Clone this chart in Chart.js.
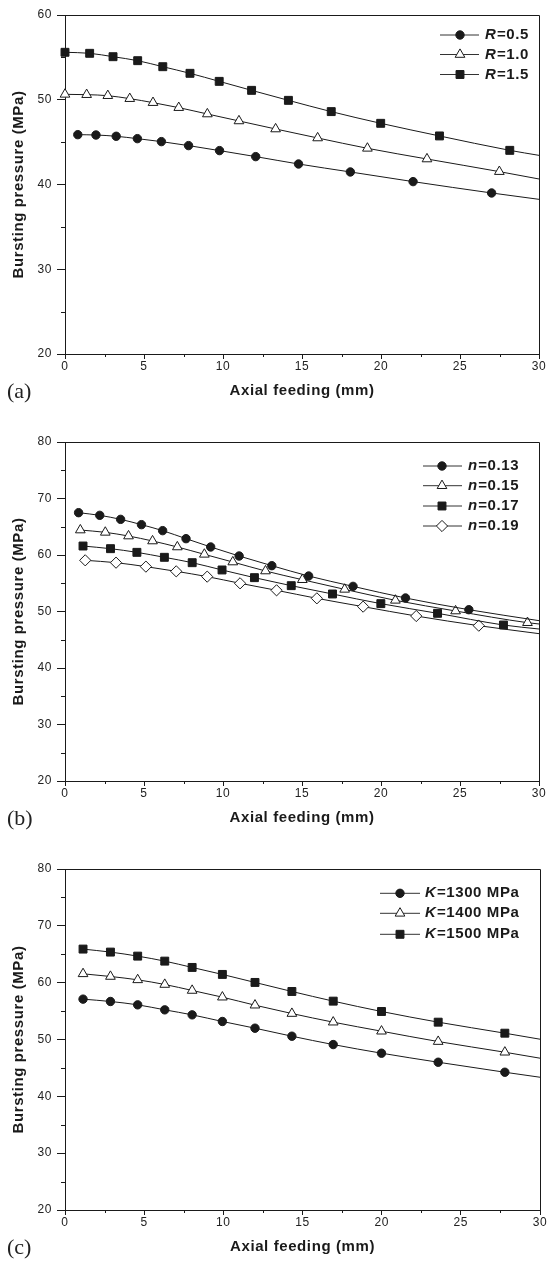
<!DOCTYPE html>
<html>
<head>
<meta charset="utf-8">
<script src="https://cdn.jsdelivr.net/npm/chart.js@4/dist/chart.umd.min.js"></script>
<style>
  html, body { margin: 0; padding: 0; background: #fff; }
  #page { position: relative; width: 548px; height: 1264px; overflow: hidden; }
  #page canvas { position: absolute; left: 0; }
  .tag { position: absolute; left: 7px; font: 22px/22px "Liberation Serif", serif; color: #222; }
</style>
</head>
<body>
<div id="page">
  <canvas id="figA" width="548" height="420" style="top:0"></canvas>
  <canvas id="figB" width="548" height="420" style="top:420px"></canvas>
  <canvas id="figC" width="548" height="424" style="top:840px"></canvas>
  <div class="tag" style="top:380px">(a)</div>
  <div class="tag" style="top:807px">(b)</div>
  <div class="tag" style="top:1236px">(c)</div>
</div>
<script>
// (a) effect of R  -- last entry of each series is where the fitted curve leaves the frame (x=30)
const feedR05 = [0.81, 1.96, 3.24, 4.58, 6.10, 7.82, 9.78, 12.07, 14.78, 18.06, 22.03, 27.0, 30];
const pressR05 = [45.88, 45.84, 45.69, 45.41, 45.06, 44.59, 44.0, 43.29, 42.42, 41.48, 40.34, 39.0, 38.25];
const feedR10 = [0, 1.37, 2.71, 4.10, 5.57, 7.20, 9.01, 11.01, 13.33, 15.99, 19.14, 22.91, 27.49, 30];
const pressR10 = [50.64, 50.6, 50.48, 50.13, 49.66, 49.07, 48.32, 47.5, 46.55, 45.49, 44.27, 43.01, 41.52, 40.65];
const feedR15 = [0, 1.56, 3.04, 4.60, 6.19, 7.91, 9.76, 11.81, 14.14, 16.85, 19.98, 23.70, 28.15, 30];
const pressR15 = [55.60, 55.48, 55.08, 54.61, 53.90, 53.12, 52.17, 51.11, 49.93, 48.60, 47.22, 45.73, 44.03, 43.44];

// (b) effect of n
const feedN13 = [0.86, 2.20, 3.52, 4.84, 6.18, 7.66, 9.22, 11.02, 13.09, 15.42, 18.23, 21.55, 25.56, 30];
const pressN13 = [67.49, 67.02, 66.31, 65.37, 64.31, 62.89, 61.42, 59.82, 58.11, 56.28, 54.45, 52.39, 50.32, 48.38];
const feedN15 = [0.97, 2.55, 4.02, 5.54, 7.11, 8.82, 10.62, 12.69, 15.02, 17.70, 20.91, 24.72, 29.27, 30];
const pressN15 = [64.42, 64.01, 63.36, 62.48, 61.42, 60.12, 58.76, 57.17, 55.63, 53.92, 51.98, 50.09, 48.02, 47.79];
const feedN17 = [1.14, 2.88, 4.55, 6.29, 8.05, 9.94, 11.99, 14.32, 16.93, 19.99, 23.58, 27.75, 30];
const pressN17 = [61.59, 61.12, 60.47, 59.59, 58.64, 57.35, 55.99, 54.57, 53.10, 51.39, 49.68, 47.61, 46.90];
const feedN19 = [1.28, 3.23, 5.12, 7.04, 9.00, 11.08, 13.39, 15.94, 18.87, 22.23, 26.19, 30];
const pressN19 = [59.06, 58.64, 57.94, 57.11, 56.17, 54.99, 53.75, 52.33, 50.86, 49.20, 47.49, 46.08];

// (c) effect of K (same feeding steps for all three)
const feedK = [1.14, 2.87, 4.59, 6.30, 8.03, 9.94, 12.00, 14.33, 16.94, 19.99, 23.57, 27.78, 30];
const pressK1300 = [57.10, 56.69, 56.10, 55.22, 54.34, 53.17, 51.99, 50.58, 49.11, 47.59, 46.00, 44.24, 43.36];
const pressK1400 = [61.56, 61.09, 60.50, 59.68, 58.63, 57.45, 56.04, 54.57, 53.05, 51.46, 49.64, 47.76, 46.71];
const pressK1500 = [65.91, 65.38, 64.67, 63.79, 62.68, 61.45, 60.04, 58.45, 56.75, 54.93, 53.05, 51.11, 50.05];

const xTicks = [0, 5, 10, 15, 20, 25, 30];
const yTicksA = [20, 30, 40, 50, 60];
const yTicksBC = [20, 30, 40, 50, 60, 70, 80];

const INK = '#1a1a1a';
const FONT = '"Liberation Sans", Arial, sans-serif';

const markers = {
  dot: { pointStyle: 'circle', r: 4.2, fill: INK },
  tri: { pointStyle: 'triangle', r: 5.6, fill: '#fff' },
  box: { pointStyle: 'rect', r: 5.6, fill: INK },
  dia: { pointStyle: 'rectRot', r: 5.6, fill: '#fff' },
};

function series(label, xs, ys, mk) {
  const m = markers[mk];
  const last = xs.length - 1;
  return {
    label,
    data: xs.map((x, i) => ({ x, y: ys[i] })),
    borderColor: INK,
    borderWidth: 1,
    cubicInterpolationMode: 'monotone',
    pointStyle: m.pointStyle,
    pointRadius: c => (c.dataIndex === last ? 0 : m.r),
    pointBackgroundColor: m.fill,
    pointBorderColor: INK,
    pointBorderWidth: 1,
    clip: false,
    _mark: m,
  };
}

// frame, minor ticks, and a line-through-marker legend
const extras = {
  id: 'extras',
  beforeDraw(chart) {
    chart.ctx.letterSpacing = '0.6px';
  },
  afterDraw(chart, args, opts) {
    const { ctx, chartArea: a, scales } = chart;
    ctx.save();
    ctx.strokeStyle = INK;
    ctx.lineWidth = 1;
    ctx.beginPath();
    ctx.moveTo(a.left, a.top + 0.5);
    ctx.lineTo(a.right + 0.5, a.top + 0.5);
    ctx.lineTo(a.right + 0.5, a.bottom);
    ctx.stroke();

    ctx.beginPath();
    for (let v = 2.5; v < 30; v += 5) {
      const px = Math.round(scales.x.getPixelForValue(v)) + 0.5;
      ctx.moveTo(px, a.bottom);
      ctx.lineTo(px, a.bottom + 3);
    }
    for (let v = scales.y.min + 5; v < scales.y.max; v += 10) {
      const py = Math.round(scales.y.getPixelForValue(v)) + 0.5;
      ctx.moveTo(a.left, py);
      ctx.lineTo(a.left - 4, py);
    }
    ctx.stroke();

    const lg = opts.legend;
    chart.data.datasets.forEach((ds, i) => {
      const y = lg.rows[i];
      ctx.strokeStyle = '#333';
      ctx.beginPath();
      ctx.moveTo(lg.x0, y);
      ctx.lineTo(lg.x1, y);
      ctx.stroke();
      ctx.fillStyle = ds._mark.fill;
      ctx.strokeStyle = INK;
      Chart.helpers.drawPoint(ctx, { pointStyle: ds._mark.pointStyle, radius: ds._mark.r, rotation: 0, borderWidth: 1 }, lg.mx, y);
      ctx.fillStyle = INK;
      ctx.textBaseline = 'middle';
      ctx.textAlign = 'left';
      ctx.font = 'italic bold 15px ' + FONT;
      const head = ds.label.charAt(0);
      ctx.fillText(head, lg.tx, y);
      const w = ctx.measureText(head).width;
      ctx.font = 'bold 15px ' + FONT;
      ctx.fillText(ds.label.slice(1), lg.tx + w + 0.5, y);
    });
    ctx.restore();
  },
};

function makeChart(id, datasets, yMin, yMax, yTicks, pad, legend) {
  return new Chart(document.getElementById(id), {
    type: 'line',
    data: { datasets },
    plugins: [extras],
    options: {
      responsive: false,
      animation: false,
      devicePixelRatio: 1,
      layout: { padding: pad },
      plugins: {
        legend: { display: false },
        tooltip: { enabled: false },
        extras: { legend },
      },
      scales: {
        x: {
          type: 'linear',
          min: 0, max: 30,
          afterBuildTicks: s => { s.ticks = xTicks.map(v => ({ value: v })); },
          afterFit: s => { s.height = 46; },
          grid: { drawOnChartArea: false, tickLength: 5, color: INK },
          border: { color: INK, width: 1 },
          ticks: { color: '#222', padding: 0, maxRotation: 0, font: { family: FONT, size: 12 } },
          title: {
            display: true, text: 'Axial feeding (mm)', color: INK,
            padding: { top: 0, bottom: 0 },
            font: { family: FONT, size: 15, weight: 'bold' },
          },
        },
        y: {
          type: 'linear',
          min: yMin, max: yMax,
          afterBuildTicks: s => { s.ticks = yTicks.map(v => ({ value: v })); },
          afterFit: s => { s.width = 65; },
          grid: { drawOnChartArea: false, tickLength: 8, color: INK },
          border: { color: INK, width: 1 },
          ticks: { color: '#222', padding: 5, font: { family: FONT, size: 12 } },
          title: {
            display: true, text: 'Bursting pressure (MPa)', color: INK,
            padding: { top: 10, bottom: 0 },
            font: { family: FONT, size: 15, weight: 'bold' },
          },
        },
      },
    },
  });
}

makeChart('figA', [
  series('R=0.5', feedR05, pressR05, 'dot'),
  series('R=1.0', feedR10, pressR10, 'tri'),
  series('R=1.5', feedR15, pressR15, 'box'),
], 20, 60, yTicksA,
  { left: 0, top: 15, right: 9, bottom: 20 },
  { x0: 440, x1: 479, mx: 460, tx: 485, rows: [35, 54.5, 74.5] });

makeChart('figB', [
  series('n=0.13', feedN13, pressN13, 'dot'),
  series('n=0.15', feedN15, pressN15, 'tri'),
  series('n=0.17', feedN17, pressN17, 'box'),
  series('n=0.19', feedN19, pressN19, 'dia'),
], 20, 80, yTicksBC,
  { left: 0, top: 22, right: 9, bottom: 13 },
  { x0: 423, x1: 462, mx: 442, tx: 468, rows: [46, 65.7, 86, 106] });

makeChart('figC', [
  series('K=1300 MPa', feedK, pressK1300, 'dot'),
  series('K=1400 MPa', feedK, pressK1400, 'tri'),
  series('K=1500 MPa', feedK, pressK1500, 'box'),
], 20, 80, yTicksBC,
  { left: 0, top: 29, right: 8, bottom: 8 },
  { x0: 380, x1: 420, mx: 400, tx: 425, rows: [53.3, 73.3, 94.3] });
</script>
</body>
</html>
